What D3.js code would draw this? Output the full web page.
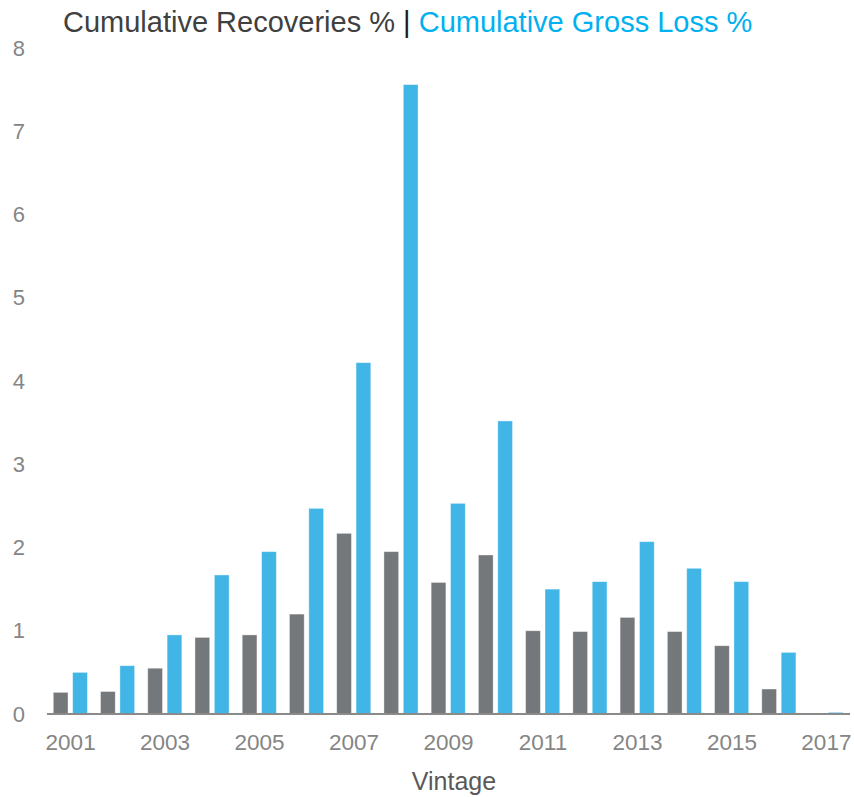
<!DOCTYPE html>
<html>
<head>
<meta charset="utf-8">
<script src="https://cdn.jsdelivr.net/npm/d3@7"></script>
<style>
  html, body { margin: 0; padding: 0; background: #fff; }
  svg { display: block; font-family: "Liberation Sans", Arial, sans-serif; }
</style>
</head>
<body>
<svg id="chart" width="854" height="797"></svg>
<script>
// Vintage years and the two cumulative series (%)
const years = ["2001","2002","2003","2004","2005","2006","2007","2008","2009",
               "2010","2011","2012","2013","2014","2015","2016","2017"];
const recoveries = [0.26, 0.27, 0.55, 0.92, 0.95, 1.20, 2.17, 1.95, 1.58,
                    1.91, 1.00, 0.99, 1.16, 0.99, 0.82, 0.30, 0.01];
const grossLoss  = [0.50, 0.58, 0.95, 1.67, 1.95, 2.47, 4.22, 7.56, 2.53,
                    3.52, 1.50, 1.59, 2.07, 1.75, 1.59, 0.74, 0.02];
const yTicks = [0, 1, 2, 3, 4, 5, 6, 7, 8];
const xTickLabels = ["2001","2003","2005","2007","2009","2011","2013","2015","2017"];
const seriesKeys = ["Cumulative Recoveries %", "Cumulative Gross Loss %"];
const seriesColors = ["#75787b", "#41b6e6"];

const FONT = "Liberation Sans, Arial, sans-serif";
const svg = d3.select("#chart");

const x0 = d3.scaleBand().domain(years).range([47, 850]).padding(0);
const bw = x0.bandwidth();
const x1 = d3.scaleBand().domain(seriesKeys)
  .range([bw * 0.133, bw * 0.855]).paddingInner(0.24).paddingOuter(0);
const y = d3.scaleLinear().domain([0, 8]).range([714, 48]);

const rows = years.map((yr, i) => ({ year: yr, values: [recoveries[i], grossLoss[i]] }));

// Bars
const groups = svg.append("g").selectAll("g")
  .data(rows).join("g")
  .attr("transform", d => `translate(${x0(d.year)},0)`);

groups.selectAll("rect")
  .data(d => d.values.map((v, k) => ({ key: seriesKeys[k], value: v, k })))
  .join("rect")
  .attr("x", d => x1(d.key))
  .attr("width", x1.bandwidth())
  .attr("y", d => y(d.value))
  .attr("height", d => y(0) - y(d.value))
  .attr("fill", d => seriesColors[d.k])
  .attr("stroke", "#ffffff")
  .attr("stroke-opacity", 0.45)
  .attr("stroke-width", 0.8);

// Baseline
svg.append("line")
  .attr("x1", 47).attr("x2", 850)
  .attr("y1", y(0)).attr("y2", y(0))
  .attr("stroke", "#8a8a8a").attr("stroke-width", 2);

// Y axis labels
const yAxis = d3.axisLeft(y).tickValues(yTicks).tickSize(0).tickPadding(0)
  .tickFormat(d3.format("d"));
const yg = svg.append("g").attr("transform", "translate(25,0)").call(yAxis);
yg.select(".domain").remove();
yg.selectAll("text")
  .attr("fill", "#858585").attr("font-size", 22)
  .attr("font-family", FONT);

// X axis labels (every other vintage)
const xAxis = d3.axisBottom(x0).tickValues(xTickLabels).tickSize(0).tickPadding(0);
const xg = svg.append("g").attr("transform", `translate(0,${y(0) + 20})`).call(xAxis);
xg.select(".domain").remove();
xg.selectAll("text")
  .attr("fill", "#858585").attr("font-size", 22.5)
  .attr("font-family", FONT);

// Axis title
svg.append("text")
  .attr("x", 454).attr("y", 790)
  .attr("text-anchor", "middle")
  .attr("font-family", FONT)
  .attr("fill", "#595959").attr("font-size", 25)
  .text("Vintage");

// Chart title in two colours
const title = svg.append("text")
  .attr("x", 63).attr("y", 32)
  .attr("font-family", FONT)
  .attr("font-size", 29);
title.append("tspan").attr("fill", "#404040").text(seriesKeys[0] + " ");
title.append("tspan").attr("fill", "#1a1a1a").text("|");
title.append("tspan").attr("fill", "#00b0f0").text(" " + seriesKeys[1]);
</script>
</body>
</html>
